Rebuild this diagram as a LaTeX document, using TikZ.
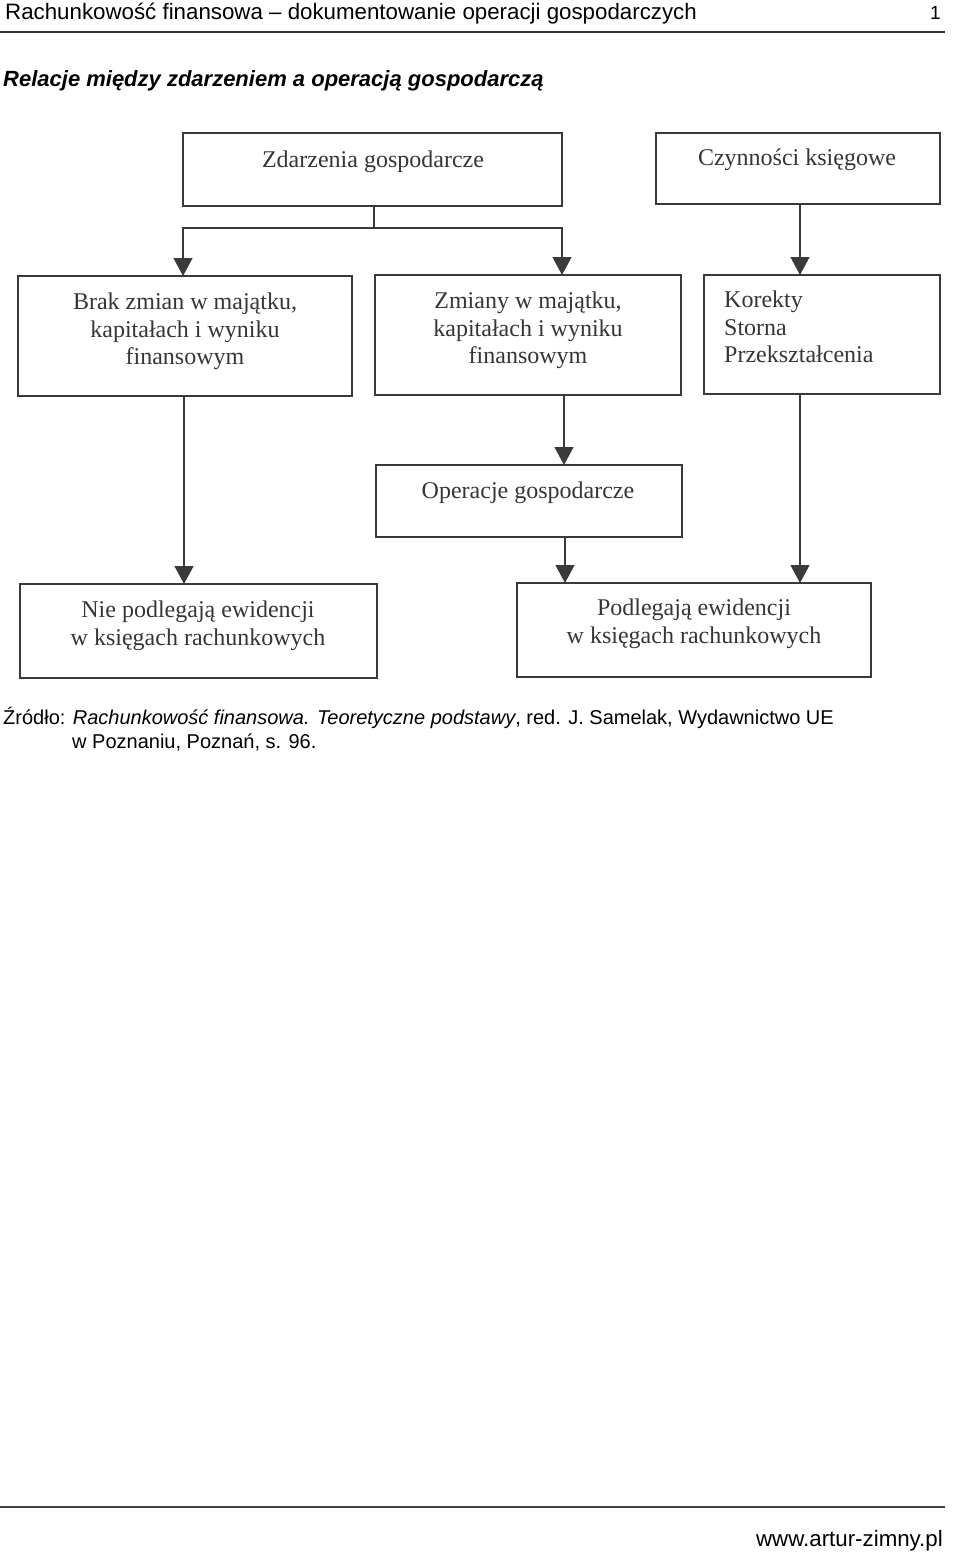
\documentclass[tikz,border=0pt]{standalone}
\usepackage{fontspec}
\setmainfont{Liberation Sans}
\newfontfamily\scanfont{Liberation Serif}
\usetikzlibrary{arrows.meta,calc}
\definecolor{ink}{HTML}{3A3A3A}
\definecolor{scantext}{HTML}{353535}
\tikzset{
  box/.style={draw=ink, line width=1.8pt, rectangle, inner sep=0pt, outer sep=0pt, anchor=north west},
  conn/.style={draw=ink, line width=1.3pt},
  arr/.style={conn, -{Triangle[width=19pt,length=18pt]}},
  dtext/.style={font=\scanfont\fontsize{24}{27.5}\selectfont, text=scantext, inner sep=0pt, align=center},
  hdr/.style={font=\fontsize{22.3}{24}\selectfont, inner sep=0pt, anchor=base west},
}
\begin{document}
\begin{tikzpicture}[x=1pt,y=-1pt]
\useasboundingbox (0,0) rectangle (960,1552);
% header
\node[hdr] (head) at (5,20) {Rachunkowość finansowa -- dokumentowanie operacji gospodarczych};
\node[font=\fontsize{19}{21}\selectfont, inner sep=0pt, anchor=base east] (pg) at (941,20) {1};
\coordinate (hl) at (0,32);
\coordinate (hr) at (945,32);
\draw[line width=2pt, black!80] (hl) -- (hr);
\node[hdr, font=\bfseries\itshape\fontsize{22}{24}\selectfont] (title) at (3,87) {Relacje między zdarzeniem a operacją gospodarczą};

% boxes
\node[box, minimum width=379pt, minimum height=73pt] (zd) at (183,133) {};
\node[box, minimum width=284pt, minimum height=71pt] (cz) at (656,133) {};
\node[box, minimum width=334pt, minimum height=120pt] (brak) at (18,276) {};
\node[box, minimum width=306pt, minimum height=120pt] (zm) at (375,275) {};
\node[box, minimum width=236pt, minimum height=119pt] (kor) at (704,275) {};
\node[box, minimum width=306pt, minimum height=72pt] (op) at (376,465) {};
\node[box, minimum width=357pt, minimum height=94pt] (nie) at (20,584) {};
\node[box, minimum width=354pt, minimum height=94pt] (pod) at (517,583) {};

% texts
\node[dtext] (tzd) at (373,162) {Zdarzenia gospodarcze};
\node[dtext] (tcz) at (797,160) {Czynności księgowe};
\node[dtext, anchor=north] (tbrak) at (185,293) {Brak zmian w majątku,\\kapitałach i wyniku\\finansowym};
\node[dtext, anchor=north] (tzm) at (528,292) {Zmiany w majątku,\\kapitałach i wyniku\\finansowym};
\node[dtext, anchor=north west, align=left] (tkor) at (724,291) {Korekty\\Storna\\Przekształcenia};
\node[dtext] (top) at (528,493) {Operacje gospodarcze};
\node[dtext, anchor=north] (tnie) at (198,601) {Nie podlegają ewidencji\\w księgach rachunkowych};
\node[dtext, anchor=north] (tpod) at (694,599) {Podlegają ewidencji\\w księgach rachunkowych};

% connectors
\coordinate (stem) at ([xshift=1.5pt]zd.south);
\coordinate (split) at ($(stem)+(0,22)$);
\draw[conn] (stem) -- (split);
\draw[arr] (split) -| ([xshift=-2pt]brak.north);
\draw[arr] (split) -| ([xshift=34pt]zm.north);
\draw[arr] ([xshift=2pt]cz.south) -- ([xshift=2pt]cz.south |- kor.north);
\draw[arr] ([xshift=-1pt]brak.south) -- ([xshift=-1pt]brak.south |- nie.north);
\draw[arr] ([xshift=36pt]zm.south) -- ([xshift=36pt]zm.south |- op.north);
\draw[arr] ([xshift=36pt]op.south) -- ([xshift=36pt]op.south |- pod.north);
\draw[arr] ([xshift=-22pt]kor.south) -- ([xshift=-22pt]kor.south |- pod.north);

% source
\node[anchor=base west, inner sep=0pt, font=\fontsize{20}{24}\selectfont] (src1) at (3,724) {Źródło: \textit{Rachunkowość finansowa. Teoretyczne podstawy}, red. J. Samelak, Wydawnictwo UE};
\node[anchor=base west, inner sep=0pt, font=\fontsize{20}{24}\selectfont] (src2) at (72,748) {w Poznaniu, Poznań, s. 96.};

% footer
\coordinate (fl) at (0,1507);
\coordinate (fr) at (945,1507);
\draw[line width=1.2pt, black!75] (fl) -- (fr);
\node[hdr, anchor=base east] (www) at (943,1546) {www.artur-zimny.pl};
\end{tikzpicture}
\end{document}
